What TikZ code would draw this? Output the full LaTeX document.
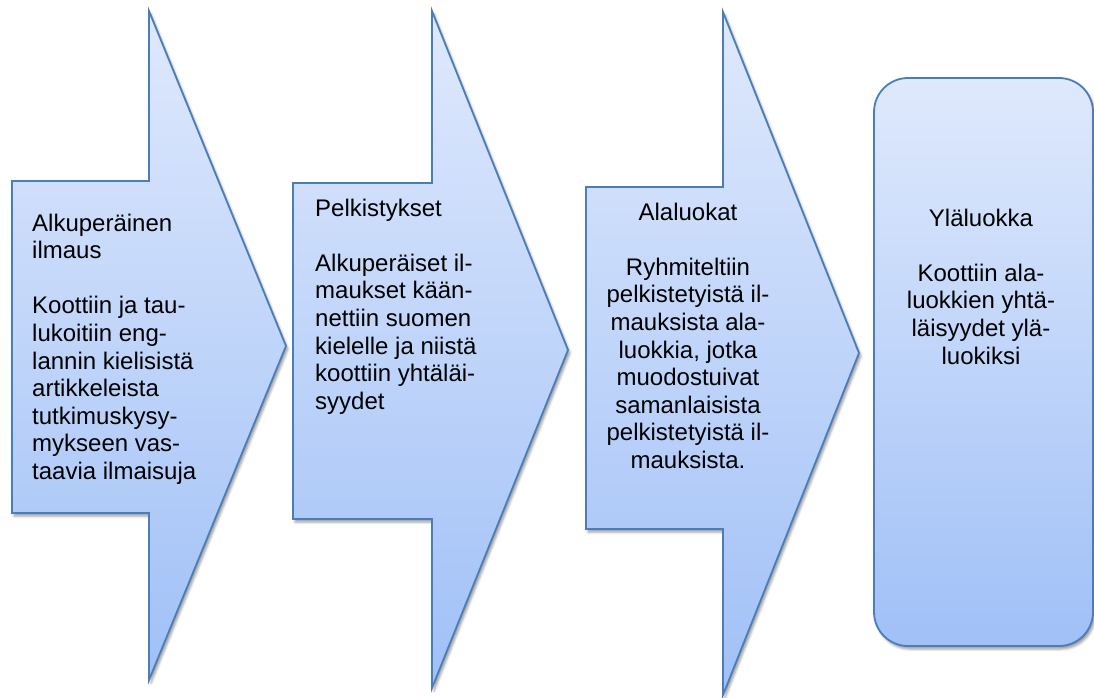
\documentclass[tikz,border=0pt]{standalone}
\usepackage{fontspec}
\setmainfont{Liberation Sans}
\usetikzlibrary{shadows.blur}
\definecolor{edgeblue}{RGB}{74,126,187}
\definecolor{topblue}{RGB}{223,233,252}
\definecolor{botblue}{RGB}{160,192,247}
\tikzset{
  chevshape/.style={draw=edgeblue, line width=1.8pt, line join=miter,
    top color=topblue, bottom color=botblue,
    blur shadow={shadow xshift=2pt, shadow yshift=-3pt, shadow blur radius=2.5pt, shadow opacity=40}},
  txt/.style={inner sep=0pt, anchor=base, text=black}
}
\newcommand{\lbox}[1]{\parbox[t]{210pt}{\fontsize{24}{27.6}\selectfont\raggedright #1}}
\newcommand{\cbox}[1]{\parbox[t]{210pt}{\fontsize{24}{27.6}\selectfont\centering #1}}
\begin{document}
\begin{tikzpicture}[x=1pt,y=-1pt]
\useasboundingbox (0,0) rectangle (1094,697);
% arrow 1
\path[chevshape] (12,181) -- (149,181) -- (149,11) -- (286,346) -- (149,680) -- (149,513) -- (12,513) -- cycle;
% arrow 2
\path[chevshape] (293,183) -- (432,183) -- (432,11) -- (568,350) -- (432,688) -- (432,519) -- (293,519) -- cycle;
% arrow 3
\path[chevshape] (586,187) -- (723,187) -- (723,12) -- (859,353) -- (723,695) -- (723,529) -- (586,529) -- cycle;
% rounded box
\path[chevshape, rounded corners=34pt] (874,78) rectangle (1093,646);

\node[txt, anchor=base west] (t1) at (32,231) {\lbox{Alkuperäinen\\ilmaus\\[27.6pt]Koottiin ja tau-\\lukoitiin eng-\\lannin kielisistä\\artikkeleista\\tutkimuskysy-\\mykseen vas-\\taavia ilmaisuja}};
\node[txt, anchor=base west] (t2) at (315,216) {\lbox{Pelkistykset\\[27.6pt]Alkuperäiset il-\\maukset kään-\\nettiin suomen\\kielelle ja niistä\\koottiin yhtäläi-\\syydet}};
\node[txt] (t3) at (688,220) {\cbox{Alaluokat\\[27.6pt]Ryhmiteltiin\\pelkistetyistä il-\\mauksista ala-\\luokkia, jotka\\muodostuivat\\samanlaisista\\pelkistetyistä il-\\mauksista.}};
\node[txt] (t4) at (981,226) {\cbox{Yläluokka\\[27.6pt]Koottiin ala-\\luokkien yhtä-\\läisyydet ylä-\\luokiksi}};
\end{tikzpicture}
\end{document}
